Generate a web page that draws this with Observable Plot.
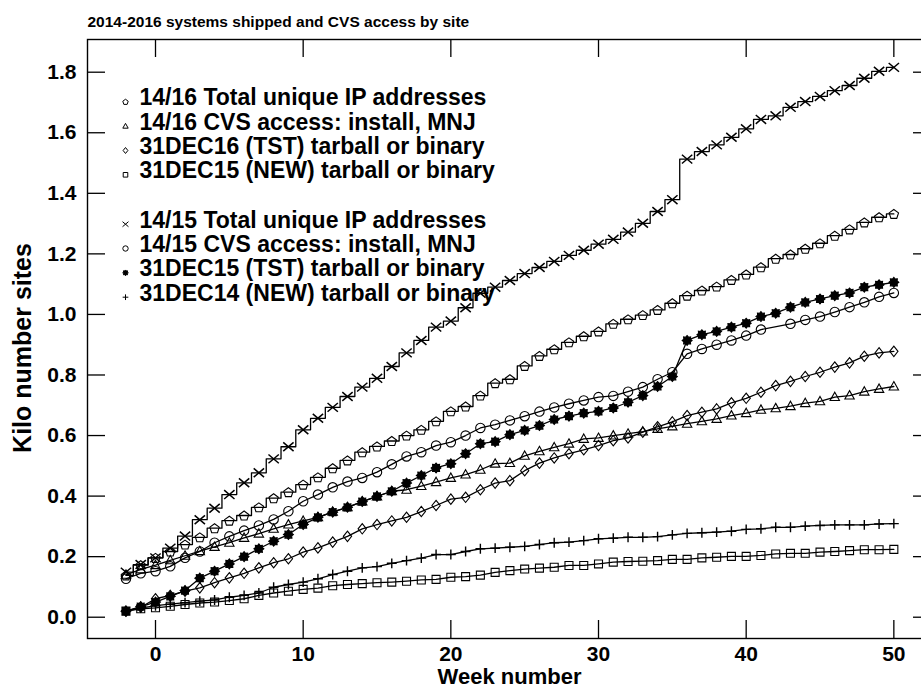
<!DOCTYPE html>
<html><head><meta charset="utf-8">
<script src="https://cdn.jsdelivr.net/npm/d3@7"></script>
<script src="https://cdn.jsdelivr.net/npm/@observablehq/plot@0.6"></script>
<style>
body{margin:0;background:#fff;}
#chart{width:921px;height:689px;overflow:hidden;position:relative;}
</style></head><body><div id="chart"></div>
<script>
// ---------------- data ----------------
const weeks = [-2,-1,0,1,2,3,4,5,6,7,8,9,10,11,12,13,14,15,16,17,18,19,20,21,22,23,24,25,26,27,28,29,30,31,32,33,34,35,36,37,38,39,40,41,42,43,44,45,46,47,48,49,50];

const title = "2014-2016 systems shipped and CVS access by site";
const xLabel = "Week number";
const yLabel = "Kilo number sites";
const xTicks = [0,10,20,30,40,50];
const yTicks = [0,0.2,0.4,0.6,0.8,1.0,1.2,1.4,1.6,1.8];

const labels = [
  "14/16 Total unique IP addresses",
  "14/16 CVS access: install, MNJ",
  "31DEC16 (TST) tarball or binary",
  "31DEC15 (NEW) tarball or binary",
  "14/15 Total unique IP addresses",
  "14/15 CVS access: install, MNJ",
  "31DEC15 (TST) tarball or binary",
  "31DEC14 (NEW) tarball or binary"
];

// 14/16 Total unique IP addresses (pentagon, stepped)
const total1416 = [0.138,0.172,0.196,0.217,0.240,0.264,0.294,0.319,0.336,0.363,0.393,0.413,0.438,0.462,0.492,0.518,0.545,0.564,0.582,0.600,0.619,0.647,0.680,0.696,0.732,0.773,0.786,0.830,0.863,0.885,0.908,0.928,0.944,0.969,0.984,0.998,1.015,1.037,1.062,1.079,1.092,1.114,1.132,1.156,1.184,1.198,1.217,1.235,1.260,1.281,1.304,1.321,1.332];
// 14/16 CVS access (triangle)
const cvs1416 = [0.140,0.158,0.172,0.188,0.203,0.218,0.232,0.246,0.262,0.276,0.292,0.306,0.318,0.330,0.348,0.363,0.382,0.399,0.416,0.421,0.433,0.446,0.460,0.471,0.487,0.507,0.509,0.533,0.548,0.561,0.573,0.589,0.592,0.600,0.606,0.613,0.622,0.630,0.639,0.647,0.655,0.666,0.674,0.685,0.690,0.697,0.707,0.713,0.727,0.732,0.745,0.754,0.762];
// 31DEC16 (TST) (diamond)
const tst16 = [0.020,0.033,0.061,0.072,0.086,0.097,0.114,0.130,0.145,0.163,0.180,0.193,0.215,0.229,0.248,0.267,0.292,0.306,0.318,0.330,0.349,0.369,0.390,0.396,0.421,0.443,0.451,0.484,0.509,0.526,0.540,0.553,0.567,0.583,0.592,0.611,0.629,0.645,0.666,0.677,0.688,0.708,0.723,0.743,0.765,0.779,0.795,0.809,0.826,0.840,0.862,0.873,0.878];
// 31DEC15 (NEW) (square)
const new15 = [0.020,0.028,0.031,0.036,0.042,0.047,0.050,0.055,0.061,0.072,0.080,0.086,0.092,0.096,0.104,0.108,0.111,0.114,0.116,0.119,0.123,0.125,0.132,0.134,0.139,0.148,0.154,0.159,0.162,0.165,0.171,0.171,0.176,0.182,0.184,0.185,0.187,0.191,0.191,0.196,0.198,0.201,0.201,0.204,0.209,0.211,0.211,0.215,0.217,0.220,0.223,0.223,0.224];
// 14/15 Total unique IP addresses (times, stepped)
const total1415 = [0.149,0.174,0.196,0.228,0.268,0.322,0.360,0.405,0.444,0.477,0.523,0.563,0.619,0.657,0.693,0.729,0.760,0.789,0.828,0.873,0.914,0.958,0.978,1.022,1.070,1.090,1.112,1.135,1.155,1.175,1.195,1.212,1.232,1.248,1.272,1.301,1.340,1.379,1.513,1.538,1.560,1.585,1.613,1.644,1.656,1.684,1.703,1.720,1.739,1.756,1.780,1.803,1.816];
// 14/15 CVS access (circle) - week 42 missing
const cvs1415 = [0.127,0.145,0.152,0.168,0.196,0.217,0.246,0.267,0.286,0.303,0.323,0.350,0.383,0.405,0.429,0.448,0.460,0.479,0.505,0.531,0.545,0.567,0.578,0.600,0.625,0.636,0.650,0.664,0.679,0.693,0.705,0.716,0.727,0.731,0.745,0.760,0.786,0.809,0.870,0.886,0.900,0.914,0.930,0.950,null,0.969,0.982,0.993,1.008,1.024,1.040,1.058,1.071];
// 31DEC15 (TST) (filled star)
const tst15 = [0.020,0.035,0.050,0.069,0.088,0.129,0.152,0.176,0.200,0.226,0.251,0.273,0.306,0.330,0.347,0.363,0.382,0.399,0.416,0.443,0.468,0.493,0.507,0.540,0.573,0.580,0.603,0.617,0.633,0.653,0.664,0.674,0.680,0.691,0.710,0.732,0.762,0.795,0.914,0.933,0.944,0.958,0.971,0.993,1.004,1.024,1.040,1.051,1.062,1.071,1.090,1.098,1.106];
// 31DEC14 (NEW) (plus)
const new14 = [0.020,0.030,0.038,0.043,0.048,0.053,0.057,0.066,0.072,0.080,0.099,0.108,0.116,0.127,0.141,0.152,0.163,0.167,0.178,0.187,0.195,0.207,0.207,0.217,0.226,0.228,0.231,0.234,0.240,0.246,0.248,0.253,0.259,0.261,0.264,0.264,0.266,0.272,0.277,0.279,0.281,0.284,0.290,0.292,0.297,0.297,0.301,0.303,0.305,0.305,0.305,0.308,0.309];

// ---------------- symbols ----------------
const rad = s => Math.sqrt(s / Math.PI);
const polygon = (ctx, pts) => { pts.forEach(([x,y],i)=> i ? ctx.lineTo(x,y) : ctx.moveTo(x,y)); ctx.closePath(); };
const symPentagon = {draw(ctx, s){ const r = rad(s)*1.05; polygon(ctx, d3.range(5).map(i=>{const a=-Math.PI/2+i*2*Math.PI/5; return [r*Math.cos(a), r*Math.sin(a)+r*0.1];})); }};
const symTriangle = {draw(ctx, s){ const r = rad(s)*1.05; polygon(ctx, [[0,-r],[r*0.95,r*0.7],[-r*0.95,r*0.7]]); }};
const symDiamond = {draw(ctx, s){ const r = rad(s)*1.1; polygon(ctx, [[0,-r],[r*0.8,0],[0,r],[-r*0.8,0]]); }};
const symSquare = {draw(ctx, s){ const r = rad(s)*0.85; polygon(ctx, [[-r,-r],[r,-r],[r,r],[-r,r]]); }};
const symCircle = {draw(ctx, s){ const r = rad(s); ctx.moveTo(r,0); ctx.arc(0,0,r,0,2*Math.PI); }};
const symTimes = {draw(ctx, s){ const r = rad(s)*1.1; ctx.moveTo(-r,-r*0.85); ctx.lineTo(r,r*0.85); ctx.moveTo(-r,r*0.85); ctx.lineTo(r,-r*0.85); }};
const symPlus = {draw(ctx, s){ const r = rad(s)*1.05; ctx.moveTo(-r,0); ctx.lineTo(r,0); ctx.moveTo(0,-r); ctx.lineTo(0,r); }};
const symStar = {draw(ctx, s){ const r = rad(s)*1.05; polygon(ctx, d3.range(16).map(i=>{const a=i*Math.PI/8; const rr = i%2 ? r*0.72 : r; return [rr*Math.cos(a), rr*Math.sin(a)];})); }};

const series = [
  {values: total1416, symbol: symPentagon, fill: "none", step: true,  sw: 1.1},
  {values: cvs1416,   symbol: symTriangle, fill: "none", step: false, sw: 1.1},
  {values: tst16,     symbol: symDiamond,  fill: "none", step: false, sw: 1.1},
  {values: new15,     symbol: symSquare,   fill: "none", step: false, sw: 1.1},
  {values: total1415, symbol: symTimes,    fill: "none", step: true,  sw: 1.5},
  {values: cvs1415,   symbol: symCircle,   fill: "none", step: false, sw: 1.1},
  {values: tst15,     symbol: symStar,     fill: "black", step: false, sw: 1.1},
  {values: new14,     symbol: symPlus,     fill: "none", step: false, sw: 1.4}
].map((s,i)=>({...s, label: labels[i], rows: weeks.map((w,j)=>({week:w, value:s.values[j]})).filter(d=>d.value!=null)}));

// ---------------- layout ----------------
const X0 = -4.605, X1 = 52.55, Y0 = -0.0703, Y1 = 1.908;
const tickX = 18 / 14.766;
const tickY = 18 * (Y1 - Y0) / 599;
const FONT = "Liberation Sans, Arial, Helvetica, sans-serif";
const legendTextY = [97.3,121.7,146,170.3,219.7,244,268.3,292.7];

const marks = [];
marks.push(Plot.frame({stroke:"black", strokeWidth:1.4}));
marks.push(Plot.ruleX(xTicks, {x:d=>d, y1:Y0, y2:Y0+tickY, strokeWidth:1.3}));
marks.push(Plot.ruleX(xTicks, {x:d=>d, y1:Y1-tickY, y2:Y1, strokeWidth:1.3}));
marks.push(Plot.ruleY(yTicks, {y:d=>d, x1:X0, x2:X0+tickX, strokeWidth:1.3}));
marks.push(Plot.ruleY(yTicks, {y:d=>d, x1:X1-tickX, x2:X1, strokeWidth:1.3}));
marks.push(Plot.axisX(xTicks, {anchor:"bottom", tickSize:0, tickPadding:8, fontSize:21, fontWeight:"bold", tickFormat:d=>String(d), label:null}));
marks.push(Plot.axisY(yTicks, {anchor:"left", tickSize:0, tickPadding:11, fontSize:21, fontWeight:"bold", tickFormat:d3.format(".1f"), label:null}));

for (const s of series) {
  marks.push(Plot.line(s.rows, {x:"week", y:"value", curve: s.step ? "step" : "linear", stroke:"black", strokeWidth:1.3}));
  marks.push(Plot.dot(s.rows, {x:"week", y:"value", symbol: s.symbol, r: 4.7, fill: s.fill, stroke:"black", strokeWidth:s.sw}));
}

series.forEach((s,i)=>{
  marks.push(Plot.dot([s.label], {frameAnchor:"top-left", dx:125-87, dy:legendTextY[i]+4-39, symbol:s.symbol, r:2.7, fill:s.fill, stroke:"black", strokeWidth:1}));
  marks.push(Plot.text([s.label], {frameAnchor:"top-left", dx:139-87, dy:legendTextY[i]-39, text:d=>d, textAnchor:"start", lineAnchor:"middle", fontSize:23, fontWeight:"bold", fontFamily:FONT, fill:"black"}));
});

marks.push(Plot.text([title], {frameAnchor:"top-left", dy:22-39, text:d=>d, textAnchor:"start", lineAnchor:"middle", fontSize:15.5, fontWeight:"bold", fontFamily:FONT}));
marks.push(Plot.text([xLabel], {frameAnchor:"bottom", dy:676-638, text:d=>d, textAnchor:"middle", lineAnchor:"middle", fontSize:22, fontWeight:"bold", fontFamily:FONT}));
marks.push(Plot.text([yLabel], {frameAnchor:"left", dx:22-87, dy:9, rotate:-90, text:d=>d, textAnchor:"middle", lineAnchor:"middle", fontSize:25, fontWeight:"bold", fontFamily:FONT}));

const chart = Plot.plot({
  width: 921, height: 689,
  marginLeft: 87, marginRight: -10, marginTop: 39, marginBottom: 51,
  x: {domain:[X0, X1], label:null},
  y: {domain:[Y0, Y1], label:null},
  style: {fontFamily: FONT, fontWeight:"bold", color:"black", background:"white", overflow:"hidden"},
  marks
});
document.getElementById("chart").appendChild(chart);
</script>
</body></html>
